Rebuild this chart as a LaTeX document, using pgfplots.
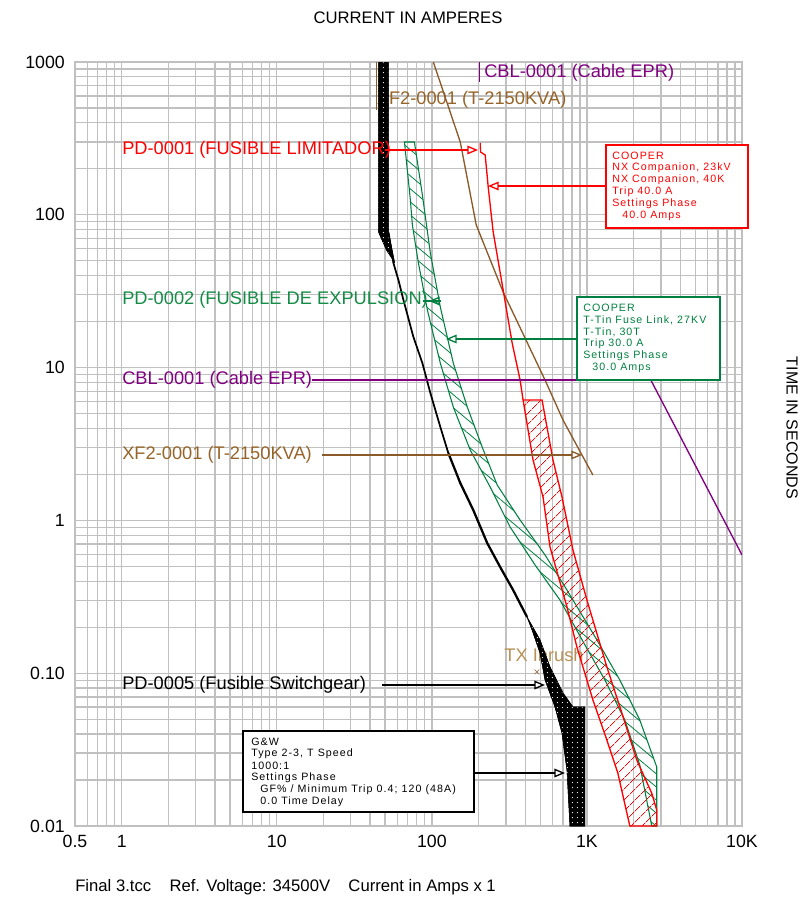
\documentclass[border=0pt]{standalone}
\usepackage{fontspec}
\setmainfont{Liberation Sans}
\newfontfamily\boxfont[LetterSpace=10]{Liberation Sans}
\usepackage{pgfplots}
\pgfplotsset{compat=1.18}
\usetikzlibrary{patterns,patterns.meta,arrows.meta}
\definecolor{cred}{RGB}{255,0,0}
\definecolor{cgreen}{RGB}{0,128,64}
\definecolor{cgreent}{RGB}{20,140,70}
\definecolor{cbrown}{RGB}{140,90,40}
\definecolor{cbrownt}{RGB}{150,100,40}
\definecolor{cpurple}{RGB}{128,0,128}
\definecolor{cgrid}{RGB}{192,192,192}
\definecolor{cinrush}{RGB}{185,145,85}
\begin{document}
\begin{tikzpicture}
\begin{scope}[x=0.75pt,y=-0.75pt]
\useasboundingbox (0,0) rectangle (807,902);
\end{scope}
\begin{axis}[
  at={(56.25pt,-619.5pt)}, anchor=south west,
  scale only axis, width=500.25pt, height=573pt,
  xmode=log, ymode=log,
  xmin=0.5, xmax=10000, ymin=0.01, ymax=1000,
  xtick={1,10,100,1000,10000}, xticklabels={1,10,100,1K,10K},
  extra x ticks={0.5}, extra x tick labels={0.5},
  ytick={0.01,0.1,1,10,100,1000}, yticklabels={0.01,0.10,1,10,100,1000},
  minor xtick={0.6,0.7,0.8,0.9,2,3,4,5,6,7,8,9,20,30,40,50,60,70,80,90,200,300,400,500,600,700,800,900,2000,3000,4000,5000,6000,7000,8000,9000},
  minor ytick={0.02,0.03,0.04,0.05,0.06,0.07,0.08,0.09,0.2,0.3,0.4,0.5,0.6,0.7,0.8,0.9,2,3,4,5,6,7,8,9,20,30,40,50,60,70,80,90,200,300,400,500,600,700,800,900},
  grid=both,
  major grid style={cgrid, line width=1pt},
  minor grid style={cgrid, line width=1pt},
  axis line style={cgrid, line width=1pt},
  major tick length=0pt, minor tick length=0pt,
  tick label style={font=\fontsize{13.3}{15}\selectfont},
  xticklabel style={inner sep=0pt, yshift=-7pt},
  yticklabel style={inner sep=0pt, xshift=-7.5pt},
]
% labels partly hidden by curves
\node[anchor=west, text=cbrownt, font=\fontsize{13.7}{16}\selectfont, inner sep=0pt] at (axis cs:44,564) {XF2-0001 (T-2150KVA)};
\node[text=cinrush, font=\fontsize{13.7}{16}\selectfont, inner sep=0pt] at (axis cs:529,0.1315) {TX Inrush};
% XF2 transformer
\addplot[cbrown, line width=1.3pt] coordinates {(44.0,1000) (44.0,485)};
\addplot[cbrown, line width=1pt] coordinates {(102.2,1000) (152.5,299.5) (193.3,85.8) (288.3,31.2) (399.2,15.6) (537,8.29) (701,4.54) (928.7,2.68) (1093,1.98)};
\addplot[cbrown, only marks, mark=x, mark size=2.5pt] coordinates {(476,0.102)};
% CBL cable
\addplot[cpurple, line width=1pt] coordinates {(202.1,1000) (202.1,739.8)};
\addplot[cpurple, line width=1pt] coordinates {(2542,8.55) (10000,0.594)};
% PD-0002 green band
\addplot[cgreen, line width=0.8pt, pattern={Lines[angle=-40,distance=7.5pt,line width=0.6pt]}, pattern color=cgreen] coordinates {
(66.6,299.5) (72.7,125.0) (74.9,85.8) (81.9,48.4) (93.6,23.8) (113.4,10.7) (137.5,5.52) (176.8,2.89) (237.8,1.654) (319.7,0.905) (463.0,0.511) (670.5,0.301) (971.0,0.153) (1306,0.0903) (1755,0.0494) (2192,0.0251) (2618,0.01) (2820,0.01) (2820,0.0243) (2192,0.0494) (1630,0.0903) (1160,0.165) (743.8,0.350) (537.0,0.594) (370.8,1.006) (263.8,1.705) (211.2,3.02) (169.2,5.52) (137.5,10.7) (113.4,24.9) (97.8,56.2) (86.9,134.8) (77.2,299.5)} -- cycle;
% PD-0001 red
\addplot[cred, line width=1pt] coordinates {(205,295.1) (206,257.6) (220.8,246.3) (230.9,152.0) (248.6,77.2) (288.3,32.2) (329.4,14.5) (370.8,8.29) (387.6,6.14)};
\addplot[cred, line width=1pt, pattern={Lines[angle=45,distance=6.5pt,line width=0.6pt]}, pattern color=cred] coordinates {
(387.6,6.14) (449.5,2.48) (521.2,1.423) (578.2,0.670) (743.8,0.271) (862.4,0.148) (1093,0.0668) (1345,0.0365) (1582,0.0222) (1891,0.01) (2820,0.01) (2820,0.0127) (2618,0.0164) (2097,0.0270) (1680,0.0549) (1345,0.1098) (1000,0.301) (812.9,0.640) (690.6,1.423) (604.5,2.48) (513.5,6.14)} -- cycle;
% PD-0005 black
\addplot[black, fill=black, postaction={pattern={Dots[distance=4pt,radius=0.5pt]}, pattern color=white}] coordinates {(45.3,1000) (52.5,1000) (52.5,77.2) (57.4,49.1) (51.0,58.8) (45.3,77.2)} -- cycle;
\addplot[black, line width=1.3pt] coordinates {(52.5,77.2) (56.5,48.4) (60.9,37.4) (65.6,27.7) (76.0,15.9) (86.9,10.7) (97.8,6.82) (113.4,4.09) (127.7,2.76)};
\addplot[black, line width=1.7pt] coordinates {(127.7,2.76) (152.5,1.757) (184.9,1.170) (227.5,0.711) (275.8,0.495) (334.3,0.350) (411.3,0.233)};
\addplot[black, fill=black, postaction={pattern={Dots[distance=4pt,radius=0.5pt]}, pattern color=white}] coordinates {(411.3,0.233) (498.5,0.165) (578.2,0.1098) (701,0.0742) (812.9,0.0601) (971,0.0601) (971,0.01) (777.6,0.01) (743.8,0.0232) (690.6,0.0406) (622.6,0.0601) (537,0.0903) (498.5,0.1356) (442.9,0.192)} -- cycle;
\end{axis}
\begin{scope}[x=0.75pt,y=-0.75pt, arr/.style={-{Triangle[open,length=8pt,width=6.5pt]}}, lab/.style={anchor=west, inner sep=0pt, font=\fontsize{13.7}{16}\selectfont}, bx/.style={anchor=west, inner sep=0pt, font=\boxfont\fontsize{8}{9}\selectfont}]
% titles
\node[font=\fontsize{12.5}{14}\selectfont] at (408,18) {CURRENT IN AMPERES};
\node[anchor=west, inner sep=0pt, font=\fontsize{12.5}{14}\selectfont] at (75,887) {Final 3.tcc\hspace{1.1em}Ref. Voltage: 34500V\hspace{1.1em}Current in Amps x 1};
\node[rotate=-90, font=\fontsize{12}{14}\selectfont] at (792,428) {TIME IN SECONDS};
% top labels
\node[lab, text=cpurple] at (484,73) {CBL-0001 (Cable EPR)};
% left labels and leaders
\node[lab, text=cred] at (122,150) {PD-0001 (FUSIBLE LIMITADOR)};
\draw[cred, line width=1pt, arr] (385,150) -- (478,150);
\node[lab, text=cgreent] at (122,300) {PD-0002 (FUSIBLE DE EXPULSION)};
\draw[cgreen, line width=1pt] (423,301) -- (441,301);
\draw[cgreen, line width=1pt, arr] (441,301) -- (429,301);
\node[lab, text=cpurple] at (122,380) {CBL-0001 (Cable EPR)};
\draw[cpurple, line width=1.2pt] (312,380) -- (650,380);
\node[lab, text=cbrownt] at (122,455) {XF2-0001 (T-2150KVA)};
\draw[cbrown, line width=1pt, arr] (322,455) -- (582,455);
\node[lab, text=black] at (122,685) {PD-0005 (Fusible Switchgear)};
\draw[black, line width=1pt, arr] (382,685) -- (545,685);
% red box
\draw[cred, line width=1pt, arr] (606,186) -- (488,186);
\draw[cred, line width=1pt, fill=white] (606,145) rectangle (748,228);
\node[bx, text=cred] at (612,156) {COOPER};
\node[bx, text=cred] at (612,168) {NX Companion, 23kV};
\node[bx, text=cred] at (612,180) {NX Companion, 40K};
\node[bx, text=cred] at (612,192) {Trip 40.0 A};
\node[bx, text=cred] at (612,204) {Settings Phase};
\node[bx, text=cred] at (622,216) {40.0 Amps};
% green box
\draw[cgreen, line width=1pt, arr] (577,339) -- (446,339);
\draw[cgreen, line width=1pt, fill=white] (577,297) rectangle (720,380);
\node[bx, text=cgreen] at (583,308) {COOPER};
\node[bx, text=cgreen] at (583,320) {T-Tin Fuse Link, 27KV};
\node[bx, text=cgreen] at (583,332) {T-Tin, 30T};
\node[bx, text=cgreen] at (583,344) {Trip 30.0 A};
\node[bx, text=cgreen] at (583,356) {Settings Phase};
\node[bx, text=cgreen] at (592,368) {30.0 Amps};
% G&W box
\draw[black, line width=1pt, arr] (474,773) -- (565,773);
\draw[black, line width=1pt, fill=white] (243,731) rectangle (474,812);
\node[bx] at (251,742) {G\&W};
\node[bx] at (251,754) {Type 2-3, T Speed};
\node[bx] at (251,766) {1000:1};
\node[bx] at (251,778) {Settings Phase};
\node[bx] at (260,790) {GF\% / Minimum Trip 0.4; 120 (48A)};
\node[bx] at (260,802) {0.0 Time Delay};
\end{scope}
\end{tikzpicture}
\end{document}
